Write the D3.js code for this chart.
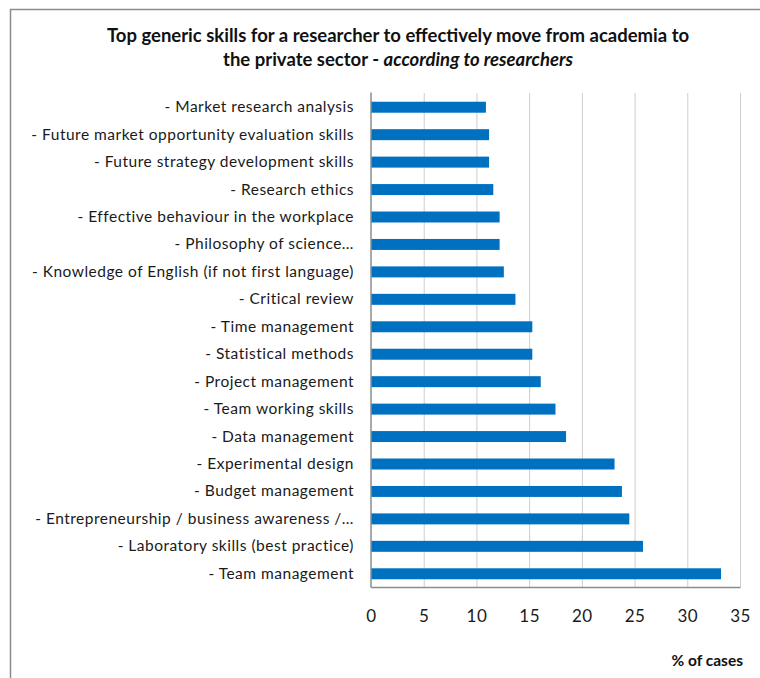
<!DOCTYPE html>
<html>
<head>
<meta charset="utf-8">
<script src="https://cdn.jsdelivr.net/npm/d3@7"></script>
<style>
  body { margin: 0; background: #fff; }
  svg { display: block; font-family: Lato, "Open Sans", sans-serif; }
</style>
</head>
<body>
<svg id="chart" width="760" height="678"></svg>
<script>
const skills = [
    '- Market research analysis',
    '- Future market opportunity evaluation skills',
    '- Future strategy development skills',
    '- Research ethics',
    '- Effective behaviour in the workplace',
    '- Philosophy of science…',
    '- Knowledge of English (if not first language)',
    '- Critical review',
    '- Time management',
    '- Statistical methods',
    '- Project management',
    '- Team working skills',
    '- Data management',
    '- Experimental design',
    '- Budget management',
    '- Entrepreneurship / business awareness /…',
    '- Laboratory skills (best practice)',
    '- Team management'
];
const percentCases = [10.9, 11.2, 11.2, 11.6, 12.2, 12.2, 12.6, 13.7, 15.3, 15.3, 16.1, 17.5, 18.5, 23.1, 23.8, 24.5, 25.8, 33.2];
const xTicks = [0, 5, 10, 15, 20, 25, 30, 35];

const svg = d3.select('#chart');

// frame round the chart, runs off the right and bottom edges
svg.append('rect')
    .attr('x', 10.5).attr('y', 9.5)
    .attr('width', 800).attr('height', 800)
    .attr('fill', 'none')
    .attr('stroke', '#8c8c8c')
    .attr('stroke-width', 1.5);

// title
let title = svg.append('text')
    .attr('text-anchor', 'middle')
    .attr('font-weight', 'bold')
    .attr('font-size', 18.5)
    .attr('fill', '#111');
title.append('tspan').attr('x', 398).attr('y', 42)
    .text('Top generic skills for a researcher to effectively move from academia to');
let line2 = title.append('tspan').attr('x', 398).attr('y', 66);
line2.append('tspan').text('the private sector - ');
line2.append('tspan').attr('font-style', 'italic').text('according to researchers');

const plotLeft = 371, plotRight = 740, plotTop = 93.5, plotBottom = 587.5;

const x = d3.scaleLinear().domain([0, 35]).range([plotLeft, plotRight]);
const y = d3.scaleBand().domain(skills).range([plotTop, plotBottom])
    .paddingInner(0.6).paddingOuter(0.3);

// dotted gridlines
svg.append('g')
    .selectAll('line')
    .data(xTicks.slice(1))
    .join('line')
    .attr('x1', d => x(d) + 0.5).attr('x2', d => x(d) + 0.5)
    .attr('y1', plotTop).attr('y2', plotBottom)
    .attr('stroke', '#9a9a9a')
    .attr('stroke-width', 1)
    .attr('stroke-dasharray', '1,1');

// bars
svg.append('g')
    .selectAll('rect')
    .data(percentCases)
    .join('rect')
    .attr('x', x(0))
    .attr('y', (d, i) => y(skills[i]))
    .attr('width', d => x(d) - x(0))
    .attr('height', y.bandwidth())
    .attr('fill', '#0070c0');

// axis lines
svg.append('line')
    .attr('x1', plotLeft).attr('x2', plotLeft)
    .attr('y1', plotTop - 1).attr('y2', plotBottom)
    .attr('stroke', '#8c8c8c').attr('stroke-width', 1.5);
svg.append('line')
    .attr('x1', plotLeft).attr('x2', plotRight + 0.5)
    .attr('y1', plotBottom).attr('y2', plotBottom)
    .attr('stroke', '#8c8c8c').attr('stroke-width', 1.5);

// category labels
let yAxis = svg.append('g')
    .attr('transform', `translate(${plotLeft - 17},0)`)
    .call(d3.axisLeft(y).tickSize(0).tickPadding(0));
yAxis.select('.domain').remove();
yAxis.selectAll('text')
    .attr('font-family', 'Lato, "Open Sans", sans-serif')
    .attr('font-size', 15.5)
    .attr('letter-spacing', 0.5)
    .attr('fill', '#1a1a1a');

// value labels
let xAxis = svg.append('g')
    .attr('transform', `translate(0,${plotBottom})`)
    .call(d3.axisBottom(x).tickValues(xTicks).tickSize(0).tickPadding(22));
xAxis.select('.domain').remove();
xAxis.selectAll('text')
    .attr('font-family', 'Lato, "Open Sans", sans-serif')
    .attr('font-size', 17)
    .attr('letter-spacing', 0.5)
    .attr('fill', '#1a1a1a');

svg.append('text')
    .attr('x', 743).attr('y', 666)
    .attr('text-anchor', 'end')
    .attr('font-weight', 'bold')
    .attr('font-size', 15.5)
    .attr('fill', '#111')
    .text('% of cases');
</script>
</body>
</html>
